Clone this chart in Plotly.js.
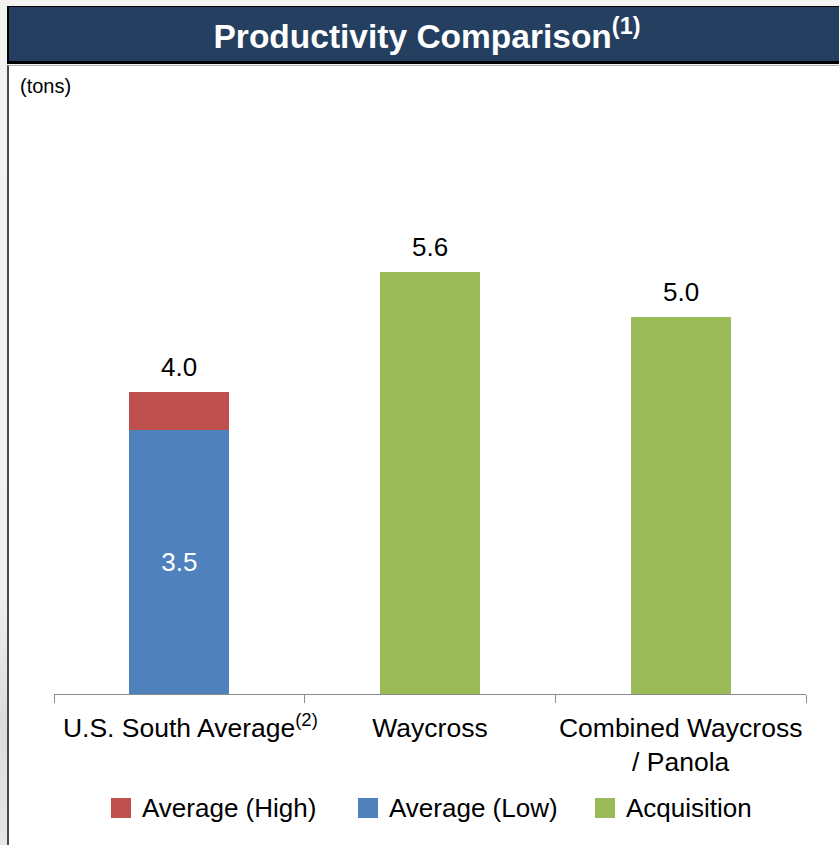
<!DOCTYPE html>
<html>
<head>
<meta charset="utf-8">
<script src="https://cdn.plot.ly/plotly-3.0.1.min.js"></script>
<style>
  html, body { margin: 0; padding: 0; }
  body {
    width: 839px; height: 845px; overflow: hidden; position: relative;
    background: linear-gradient(to bottom, #f3f3f1 0%, #efefec 70%, #dcdcd8 85%, #e6e6e2 100%);
    font-family: "Liberation Sans", Arial, sans-serif;
  }
  #panel {
    position: absolute; left: 7px; top: 65px; width: 900px; height: 900px;
    background: #ffffff; border-left: 2px solid #4a4a4a; border-top: 1px solid #b0b0b0;
  }
  #header {
    position: absolute; left: 7px; top: 6px; width: 900px; height: 54px;
    background: #243f60; border-top: 1px solid #000; border-left: 2px solid #000;
    border-bottom: 3px solid #000;
  }
  #chart { position: absolute; left: 0; top: 0; width: 839px; height: 845px; }
</style>
</head>
<body>
<div id="panel"></div>
<div id="header"></div>
<div id="chart"></div>
<script>
// Productivity (tons) by operation
const categories = ['U.S. South Average', 'Waycross', 'Combined Waycross / Panola'];
const tickLabels = ['\u00a0\u00a0\u00a0U.S. South Average<sup>(2)</sup>', 'Waycross', 'Combined Waycross<br>/ Panola'];
const avgLow = [3.5, null, null];
const avgHigh = [0.5, null, null];
const acquisition = [null, 5.6, 5.0];

const seriesNames = ['Average (Low)', 'Average (High)', 'Acquisition'];
const seriesColors = ['#4f81bd', '#c0504d', '#9bbb59'];
const legendOrder = [1, 0, 2];

const FONT = '"Liberation Sans", Arial, sans-serif';

// plot-area geometry in page pixels
const plotLeft = 54, plotRight = 806, plotTop = 166, plotBottom = 694;
const W = 839, H = 845;
const px = x => (x - plotLeft) / (plotRight - plotLeft);
const py = y => (plotBottom - y) / (plotBottom - plotTop);

const seriesValues = [avgLow, avgHigh, acquisition];
const traces = seriesValues.map((vals, i) => ({
  type: 'bar',
  name: seriesNames[i],
  x: categories,
  y: vals,
  marker: { color: seriesColors[i], line: { width: 0 } },
  text: i === 0 ? vals.map(v => v == null ? '' : v.toFixed(1)) : undefined,
  textposition: i === 0 ? 'inside' : 'none',
  insidetextanchor: 'middle',
  textfont: { family: FONT, size: 26, color: '#ffffff' },
  showlegend: false,
  hoverinfo: 'skip'
}));

// total value above each column
const totals = categories.map((c, k) =>
  seriesValues.reduce((s, arr) => s + (arr[k] == null ? 0 : arr[k]), 0));

const annotations = totals.map((t, k) => ({
  x: categories[k], y: t, xref: 'x', yref: 'y',
  text: t.toFixed(1), showarrow: false,
  yanchor: 'bottom', yshift: 8,
  font: { family: FONT, size: 26, color: '#000000' }
}));

annotations.push({
  xref: 'paper', yref: 'paper', x: px(18), y: py(86),
  xanchor: 'left', yanchor: 'middle', showarrow: false,
  text: '(tons)', font: { family: FONT, size: 20, color: '#000000' }
});

// legend row
const swatchX = [111, 358, 595];
const legendY = 808;
const shapes = [];
legendOrder.forEach((si, j) => {
  const x0 = swatchX[j];
  shapes.push({
    type: 'rect', xref: 'paper', yref: 'paper',
    x0: px(x0), x1: px(x0 + 20), y0: py(legendY + 10), y1: py(legendY - 10),
    fillcolor: seriesColors[si], line: { width: 0 }
  });
  annotations.push({
    xref: 'paper', yref: 'paper', x: px(x0 + 29), y: py(legendY),
    xanchor: 'left', yanchor: 'middle', showarrow: false,
    text: seriesNames[si], font: { family: FONT, size: 26, color: '#000000' }
  });
});

const layout = {
  width: W, height: H,
  paper_bgcolor: 'rgba(0,0,0,0)',
  plot_bgcolor: 'rgba(0,0,0,0)',
  margin: { l: plotLeft, r: W - plotRight, t: plotTop, b: H - plotBottom, pad: 0 },
  title: {
    text: '<b>Productivity Comparison<sup>(1)</sup></b>',
    font: { family: FONT, size: 33.5, color: '#ffffff' },
    xref: 'container', yref: 'container',
    x: 427 / W, xanchor: 'center',
    y: 1 - 36 / H, yanchor: 'middle'
  },
  barmode: 'stack',
  bargap: 0.6,
  showlegend: false,
  xaxis: {
    type: 'category',
    tickvals: categories, ticktext: tickLabels,
    tickangle: 0,
    ticklabelstandoff: 10,
    showline: true, linecolor: '#8c8c8c', linewidth: 1,
    ticks: 'outside', tickson: 'boundaries', ticklen: 8, tickcolor: '#8c8c8c', tickwidth: 1,
    tickfont: { family: FONT, size: 26.5, color: '#000000' },
    showgrid: false, zeroline: false, fixedrange: true
  },
  yaxis: {
    range: [0, 7], visible: false, showgrid: false, zeroline: false, fixedrange: true
  },
  annotations: annotations,
  shapes: shapes,
  font: { family: FONT }
};

Plotly.newPlot('chart', traces, layout, { staticPlot: true, displayModeBar: false });
</script>
</body>
</html>
